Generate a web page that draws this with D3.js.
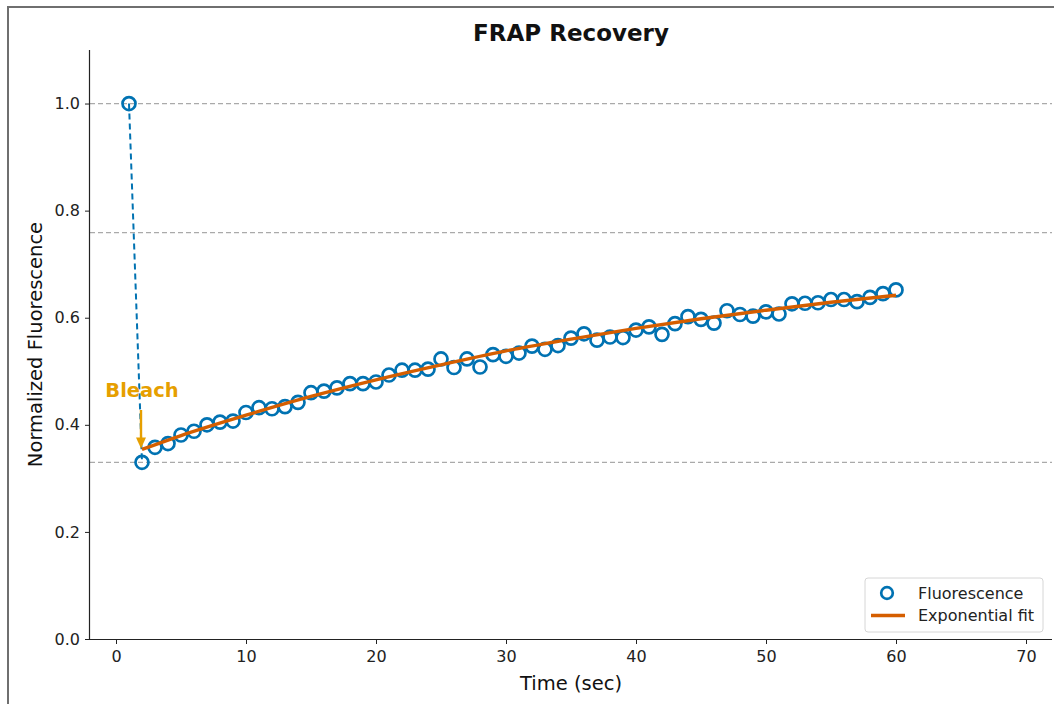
<!DOCTYPE html>
<html>
<head>
<meta charset="utf-8">
<script src="https://cdn.jsdelivr.net/npm/d3@7"></script>
<style>
  html, body { margin: 0; padding: 0; background: #fff; }
  svg { display: block; font-family: "DejaVu Sans", sans-serif; }
</style>
</head>
<body>
<svg id="chart" width="1054" height="704"></svg>
<script>
// ---- data ----
const timeSec = [1,2,3,4,5,6,7,8,9,10,11,12,13,14,15,16,17,18,19,20,21,22,23,24,25,26,27,28,29,30,
                 31,32,33,34,35,36,37,38,39,40,41,42,43,44,45,46,47,48,49,50,51,52,53,54,55,56,57,58,59,60];
const fluorescence = [1.000,0.330,0.358,0.365,0.381,0.388,0.400,0.405,0.407,0.423,0.432,0.430,0.434,0.442,0.460,0.463,0.469,0.477,0.477,0.480,
                      0.493,0.502,0.502,0.504,0.523,0.507,0.523,0.508,0.531,0.528,0.534,0.547,0.541,0.548,0.562,0.570,0.558,0.564,0.563,0.577,
                      0.583,0.569,0.589,0.602,0.597,0.590,0.613,0.606,0.603,0.611,0.607,0.626,0.627,0.628,0.634,0.634,0.630,0.638,0.645,0.652];
const fitTime = [2,5,10,15,20,25,30,35,40,45,50,55,60];
const fitValue = [0.354,0.380,0.418,0.453,0.484,0.512,0.538,0.560,0.580,0.598,0.614,0.629,0.642];
const refLines = [1.0, 0.759, 0.330];
const xTicks = [0,10,20,30,40,50,60,70];
const yTicks = [0.0,0.2,0.4,0.6,0.8,1.0];
const bleachPoint = {t: 2, v: 0.356};
const bleachLabel = {t: 2, v: 0.465, text: "Bleach"};

// ---- layout ----
const svg = d3.select("#chart");
const L = 90, R = 1052, T = 50, B = 639;
const x = d3.scaleLinear().domain([-2, 72]).range([L, R]);
const y = d3.scaleLinear().domain([0, 1.1]).range([B, T]);

const blue = "#0072B2", orange = "#D55E00", gold = "#E69F00";

// outer frame
svg.append("rect").attr("x", 8).attr("y", 7).attr("width", 1060).attr("height", 720)
  .attr("fill", "none").attr("stroke", "#6f6f6f").attr("stroke-width", 2);

// title
svg.append("text").attr("x", (L + R) / 2).attr("y", 41).attr("text-anchor", "middle")
  .attr("font-size", 23).attr("font-weight", "bold").attr("fill", "#111").text("FRAP Recovery");

// reference dashed lines
svg.append("g").selectAll("line").data(refLines).join("line")
  .attr("x1", L).attr("x2", R).attr("y1", d => y(d)).attr("y2", d => y(d))
  .attr("stroke", "#aaaaaa").attr("stroke-width", 1.2).attr("stroke-dasharray", "5,3");

// axes
const xAxis = d3.axisBottom(x).tickValues(xTicks).tickFormat(d3.format("d")).tickSizeOuter(0).tickSize(5).tickPadding(7);
const yAxis = d3.axisLeft(y).tickValues(yTicks).tickFormat(d3.format(".1f")).tickSizeOuter(0).tickSize(5).tickPadding(5);

const gx = svg.append("g").attr("transform", `translate(0,${B})`).call(xAxis);
gx.select(".domain").attr("d", `M${L},0.5H${R}`);
const gy = svg.append("g").attr("transform", `translate(${L},0)`).call(yAxis);
gy.select(".domain").attr("d", `M-0.5,${T}V${B}`);
[gx, gy].forEach(g => {
  g.selectAll("text").attr("font-size", 16).attr("fill", "#222").attr("font-family", "DejaVu Sans");
  g.selectAll("line").attr("stroke", "#222");
  g.select(".domain").attr("stroke", "#222").attr("stroke-width", 1.2);
});

// axis labels
svg.append("text").attr("x", (L + R) / 2).attr("y", 690).attr("text-anchor", "middle")
  .attr("font-size", 19.5).attr("fill", "#111").text("Time (sec)");
svg.append("text").attr("transform", `translate(42,${(T + B) / 2}) rotate(-90)`).attr("text-anchor", "middle")
  .attr("font-size", 19.5).attr("fill", "#111").text("Normalized Fluorescence");

// data
const pts = timeSec.map((t, i) => ({t, v: fluorescence[i]}));

// dashed connector pre-bleach -> bleach
svg.append("path").datum(pts.slice(0, 2))
  .attr("d", d3.line().x(d => x(d.t)).y(d => y(d.v)))
  .attr("fill", "none").attr("stroke", blue).attr("stroke-width", 2).attr("stroke-dasharray", "6,4");

// markers
svg.append("g").selectAll("circle").data(pts).join("circle")
  .attr("cx", d => x(d.t)).attr("cy", d => y(d.v)).attr("r", 6.5)
  .attr("fill", "none").attr("stroke", blue).attr("stroke-width", 2.7);

// fit line
const fitPts = fitTime.map((t, i) => ({t, v: fitValue[i]}));
svg.append("path").datum(fitPts)
  .attr("d", d3.line().curve(d3.curveMonotoneX).x(d => x(d.t)).y(d => y(d.v)))
  .attr("fill", "none").attr("stroke", orange).attr("stroke-width", 3.4);

// bleach annotation
svg.append("text").attr("x", x(bleachLabel.t)).attr("y", y(bleachLabel.v) + 7).attr("text-anchor", "middle")
  .attr("font-size", 19.5).attr("font-weight", "bold").attr("fill", gold).text(bleachLabel.text);
const ax = x(bleachPoint.t) - 1, ayTip = y(bleachPoint.v), ayStart = y(bleachLabel.v) + 20;
svg.append("line").attr("x1", ax).attr("x2", ax).attr("y1", ayStart).attr("y2", ayTip - 8)
  .attr("stroke", gold).attr("stroke-width", 2.4);
svg.append("path").attr("d", `M${ax - 5},${ayTip - 11}L${ax + 5},${ayTip - 11}L${ax},${ayTip}Z`).attr("fill", gold);

// legend
const lg = svg.append("g").attr("transform", "translate(865,578)");
lg.append("rect").attr("width", 178).attr("height", 54).attr("rx", 3)
  .attr("fill", "#fff").attr("fill-opacity", 0.9).attr("stroke", "#d6d6d6");
lg.append("circle").attr("cx", 22).attr("cy", 15).attr("r", 5.8)
  .attr("fill", "none").attr("stroke", blue).attr("stroke-width", 2.7);
lg.append("line").attr("x1", 6).attr("x2", 40).attr("y1", 37.5).attr("y2", 37.5)
  .attr("stroke", orange).attr("stroke-width", 3.4);
lg.append("text").attr("x", 53).attr("y", 20.5).attr("font-size", 16).attr("fill", "#222").text("Fluorescence");
lg.append("text").attr("x", 53).attr("y", 43).attr("font-size", 16).attr("fill", "#222").text("Exponential fit");
</script>
</body>
</html>
